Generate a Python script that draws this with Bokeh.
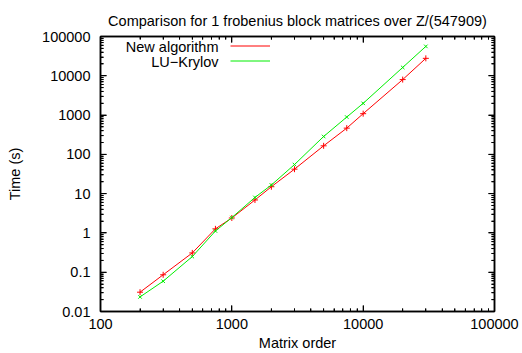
import math
from bokeh.plotting import figure
from bokeh.models import (Range1d, FixedTicker, Legend, LegendItem, Label, LogAxis,
                          CustomJSTickFormatter)
from bokeh.core.properties import value
from bokeh.embed import file_html
from bokeh.resources import INLINE

# ---- data ----
matrix_order = [200, 300, 500, 750, 1000, 1500, 2000, 3000, 5000, 7500, 10000, 20000, 30000]
new_algorithm = [0.031, 0.086, 0.31, 1.27, 2.4, 6.9, 15, 42, 165, 465, 1085, 8000, 27800]
lu_krylov = [0.0235, 0.059, 0.25, 1.12, 2.46, 8.0, 16.6, 55, 285, 890, 1990, 16300, 56000]

x_ticks = [100, 1000, 10000, 100000]
x_tick_labels = ["100", "1000", "10000", "100000"]
y_ticks = [0.01, 0.1, 1, 10, 100, 1000, 10000, 100000]
y_tick_labels = ["0.01", "0.1", "1", "10", "100", "1000", "10000", "100000"]
series_names = ["New algorithm", "LU\u2212Krylov"]
series_colors = ["#ff0000", "#00ee00"]
title_text = "Comparison for 1 frobenius block matrices over Z/(547909)"

FONT = "Liberation Sans"
FS = "14.5px"

def minor(ticks):
    out = []
    for t in ticks[:-1]:
        out += [t * m for m in range(2, 10)]
    return out

x_lo, x_hi = x_ticks[0], x_ticks[-1]
y_lo, y_hi = y_ticks[0], y_ticks[-1]

W, H = 522, 353
BL, BR, BT, BB = 100, 28, 36, 42
p = figure(width=W, height=H, x_axis_type="log", y_axis_type="log",
           x_range=Range1d(x_lo, x_hi), y_range=Range1d(y_lo, y_hi),
           output_backend="svg", toolbar_location=None,
           min_border_left=BL, min_border_right=BR, min_border_top=BT, min_border_bottom=BB,
           title=title_text)
p.title.align = "center"
p.title.vertical_align = "top"
p.title.text_font = FONT
p.title.text_font_size = FS
p.title.text_font_style = "normal"
p.title.text_color = "black"
p.title.standoff = 12
p.title.offset = 0
p.grid.visible = False
p.outline_line_color = "black"
p.outline_line_width = 1.5

frame_w = W - BL - BR
frame_h = H - BT - BB

xt = FixedTicker(ticks=x_ticks, minor_ticks=minor(x_ticks))
yt = FixedTicker(ticks=y_ticks, minor_ticks=minor(y_ticks))

def tick_style(ax):
    ax.major_tick_in = 6
    ax.major_tick_out = 0
    ax.minor_tick_in = 3
    ax.minor_tick_out = 0
    ax.major_tick_line_color = "black"
    ax.minor_tick_line_color = "black"
    ax.axis_line_color = "black"
    ax.axis_line_width = 1.5

for ax, ticks, labels, tk in ((p.xaxis[0], x_ticks, x_tick_labels, xt),
                              (p.yaxis[0], y_ticks, y_tick_labels, yt)):
    ax.ticker = tk
    ax.major_label_overrides = {t: l for t, l in zip(ticks, labels)}
    ax.major_label_text_font = FONT
    ax.major_label_text_font_size = FS
    ax.major_label_text_color = "black"
    ax.axis_label_text_font = FONT
    ax.axis_label_text_font_size = FS
    ax.axis_label_text_font_style = "normal"
    ax.axis_label_text_color = "black"
    tick_style(ax)

p.xaxis[0].axis_label = "Matrix order"
p.yaxis[0].axis_label = "Time (s)"
p.xaxis[0].major_label_standoff = 7
p.xaxis[0].axis_label_standoff = 3
p.yaxis[0].major_label_standoff = 10
p.yaxis[0].axis_label_standoff = 16

blank = CustomJSTickFormatter(code="return ''")
top = LogAxis(ticker=xt, formatter=blank, major_label_standoff=0)
right = LogAxis(ticker=yt, formatter=blank, major_label_standoff=0)
tick_style(top)
tick_style(right)
p.add_layout(top, "above")
p.add_layout(right, "right")

# inward tick marks also drawn as short segments along the frame edges
xmaj, xmin = x_ticks, minor(x_ticks)
ymaj, ymin = y_ticks, minor(y_ticks)
x_dec_px = frame_w / math.log10(x_hi / x_lo)
y_dec_px = frame_h / math.log10(y_hi / y_lo)
tick_x = xmaj + xmin
tick_y = ymaj + ymin
x_len = [6] * len(xmaj) + [3] * len(xmin)
y_len = [6] * len(ymaj) + [3] * len(ymin)
n = len(tick_x)
m = len(tick_y)
p.segment(x0=tick_x, x1=tick_x, y0=[y_lo] * n,
          y1=[y_lo * 10 ** (l / y_dec_px) for l in x_len], line_color="black", line_width=1)
p.segment(x0=tick_x, x1=tick_x, y0=[y_hi] * n,
          y1=[y_hi / 10 ** (l / y_dec_px) for l in x_len], line_color="black", line_width=1)
p.segment(x0=[x_lo] * m, x1=[x_lo * 10 ** (l / x_dec_px) for l in y_len],
          y0=tick_y, y1=tick_y, line_color="black", line_width=1)
p.segment(x0=[x_hi] * m, x1=[x_hi / 10 ** (l / x_dec_px) for l in y_len],
          y0=tick_y, y1=tick_y, line_color="black", line_width=1)

r1 = p.line(matrix_order, new_algorithm, line_color=series_colors[0], line_width=1)
p.scatter(matrix_order, new_algorithm, marker="cross", size=6, line_color=series_colors[0], line_width=1)
r2 = p.line(matrix_order, lu_krylov, line_color=series_colors[1], line_width=1)
p.scatter(matrix_order, lu_krylov, marker="x", size=5, line_color=series_colors[1], line_width=1)

legend = Legend(items=[LegendItem(label=value(""), renderers=[r1]),
                       LegendItem(label=value(""), renderers=[r2])],
                location=(130, 243), border_line_color=None, background_fill_alpha=0,
                glyph_width=40, label_width=0, label_standoff=0, spacing=0,
                glyph_height=15, padding=0, margin=0, label_height=15)
p.add_layout(legend, "center")

for i, name in enumerate(series_names):
    p.add_layout(Label(x=118, y=265 - 15 * i, x_units="screen", y_units="screen",
                       text=name, text_align="right", text_baseline="middle",
                       text_font=FONT, text_font_size=FS, text_color="black"))

open("out.html", "w").write(file_html(p, INLINE))
